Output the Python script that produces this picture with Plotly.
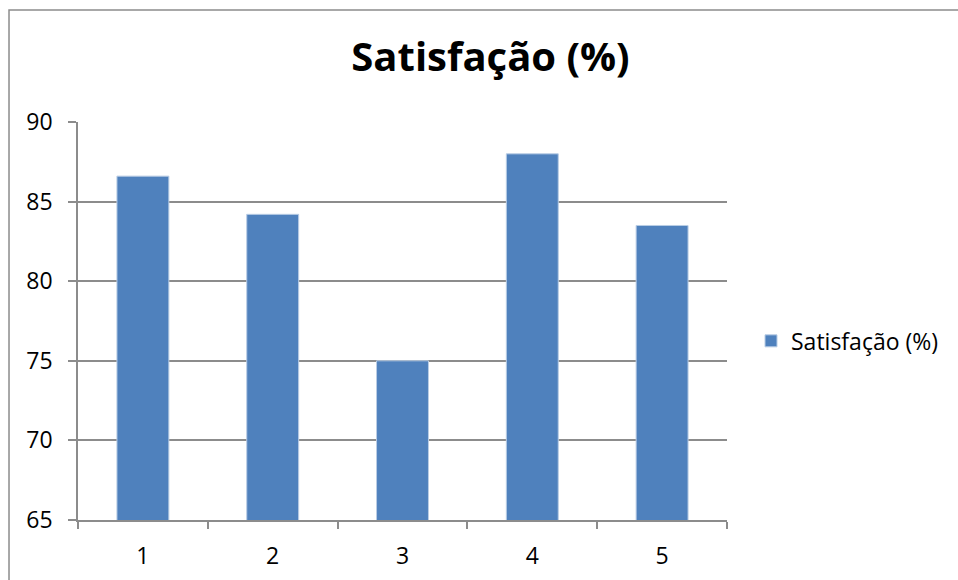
import plotly.graph_objects as go

categories = ["1", "2", "3", "4", "5"]
values = [86.6, 84.2, 75.0, 88.0, 83.5]
series_name = "Satisfação (%)"
y_ticks = [65, 70, 75, 80, 85, 90]

FONT = "Open Sans"
GRID = "#8c8c8c"

fig = go.Figure()
fig.add_trace(go.Bar(
    x=categories, y=values, name=series_name,
    marker=dict(color="#4f81bd", line=dict(color="#b9cde5", width=1)),
    width=0.4,
))

fig.update_layout(
    width=958, height=580,
    margin=dict(l=78, r=231, t=122, b=60, autoexpand=False),
    paper_bgcolor="white", plot_bgcolor="white",
    font=dict(family=FONT, size=23, color="black"),
    title=dict(text="<b>Satisfação (%)</b>", x=0.512, xanchor="center",
               y=0.902, yanchor="middle", font=dict(size=40, family=FONT)),
    showlegend=True,
    legend=dict(x=1.037, y=0.45, xanchor="left", yanchor="middle",
                font=dict(size=23), bgcolor="rgba(0,0,0,0)", itemwidth=30),
)
fig.update_xaxes(type="category", showline=True, linecolor=GRID, linewidth=1.5,
                 ticks="outside", tickson="boundaries", ticklen=7, tickcolor=GRID,
                 tickwidth=1.5, showgrid=False, ticklabelstandoff=15, automargin=False)
fig.update_yaxes(range=[65, 90], tickvals=y_ticks, showline=True, linecolor=GRID,
                 linewidth=1.5, ticks="outside", ticklen=8, tickcolor=GRID,
                 tickwidth=1.5, showgrid=True, gridcolor=GRID, gridwidth=1.5,
                 zeroline=False, ticklabelstandoff=11, automargin=False)

fig.add_shape(type="rect", xref="paper", yref="paper",
              x0=-0.1063, y0=-1.0, x1=2.0, y1=1.2814,
              line=dict(color=GRID, width=1.5), layer="below")

fig.write_html("out.html", config={"displayModeBar": False},
               post_script="document.body.style.margin='0';document.body.style.overflow='hidden';")
